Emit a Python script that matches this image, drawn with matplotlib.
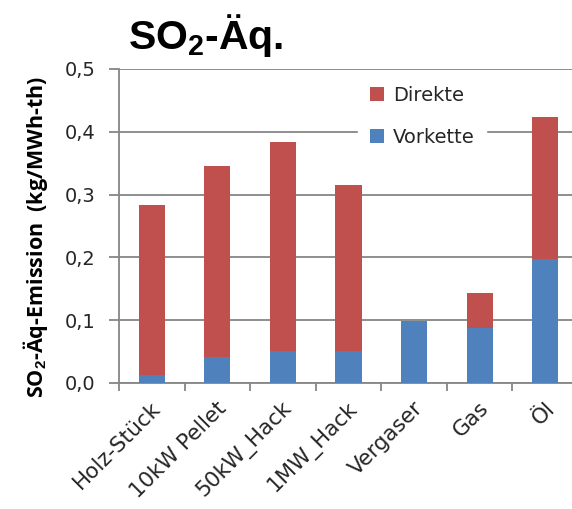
import matplotlib
matplotlib.use("Agg")
import matplotlib.pyplot as plt
import matplotlib.transforms as mtransforms
import numpy as np

categories = ["Holz-Stück", "10kW Pellet", "50kW_Hack", "1MW_Hack", "Vergaser", "Gas", "Öl"]
vorkette = [0.012, 0.042, 0.051, 0.051, 0.099, 0.087, 0.198]
direkte = [0.272, 0.303, 0.332, 0.265, 0.0, 0.057, 0.226]
yticks = [0.0, 0.1, 0.2, 0.3, 0.4, 0.5]
ytick_labels = ["0,0", "0,1", "0,2", "0,3", "0,4", "0,5"]

plt.rcParams['mathtext.fontset'] = 'custom'
plt.rcParams['mathtext.rm'] = 'Liberation Sans'
plt.rcParams['mathtext.bf'] = 'Liberation Sans:bold'

BLUE = "#4F81BD"
RED = "#C0504D"
GRID = "#868686"
TXT = "#262626"

fig = plt.figure(figsize=(5.72, 5.09), dpi=100)
ax = fig.add_axes([119/572, 1-383/509, (578-119)/572, (383-69)/509])

x = np.arange(len(categories))
ax.bar(x, vorkette, width=0.4, color=BLUE, label="Vorkette", zorder=3)
ax.bar(x, direkte, width=0.4, bottom=vorkette, color=RED, label="Direkte", zorder=3)

ax.set_xlim(-0.5, 6.5)
ax.set_ylim(0, 0.5)
ax.set_yticks(yticks)
ax.set_yticklabels(ytick_labels, fontsize=14, family="DejaVu Sans", color=TXT)
ax.yaxis.grid(True, color=GRID, linewidth=1.3, zorder=0)
ax.set_axisbelow(True)

ax.set_xticks(x)
ax.set_xticklabels(categories, rotation=45, ha="right", va="center", rotation_mode="anchor",
                   fontsize=15.5, family="DejaVu Sans", color=TXT)
ax.tick_params(axis="x", which="major", length=0, pad=16)
ax.set_xticks(np.arange(-0.5, 6.0, 1.0), minor=True)
ax.tick_params(axis="x", which="minor", length=6, width=1.3, color=GRID)
ax.tick_params(axis="y", length=7, width=1.3, color=GRID, pad=10)

offset = mtransforms.ScaledTranslation(6/100, 0, fig.dpi_scale_trans)
for lbl in ax.get_xticklabels():
    lbl.set_transform(lbl.get_transform() + offset)

for s in ["top", "right"]:
    ax.spines[s].set_visible(False)
for s in ["left", "bottom"]:
    ax.spines[s].set_color(GRID)
    ax.spines[s].set_linewidth(1.3)

handles, labels = ax.get_legend_handles_labels()
leg = ax.legend(handles[::-1], labels[::-1], loc="upper left",
                bbox_to_anchor=(358/572, 1-74/509), bbox_transform=fig.transFigure,
                borderaxespad=0,
                frameon=True, fancybox=False, edgecolor="white", framealpha=1,
                prop={"family": "DejaVu Sans", "size": 14}, handlelength=0.75, handleheight=0.75,
                handletextpad=0.45, labelspacing=1.2, borderpad=0.6)
for t in leg.get_texts():
    t.set_color(TXT)

fig.text(0.062, 1-237/509, "SO$_\\mathbf{2}$-Äq-Emission  (kg/MWh-th)", rotation=90,
         ha="center", va="center", fontsize=15.5, fontweight="bold", family="Open Sans")

fig.text(128/572, 1-49/509, "SO$_\\mathbf{2}$-Äq.", ha="left", va="baseline",
         fontsize=29.5, fontweight="bold", family="Liberation Sans")

fig.savefig("out.png", dpi=100)
